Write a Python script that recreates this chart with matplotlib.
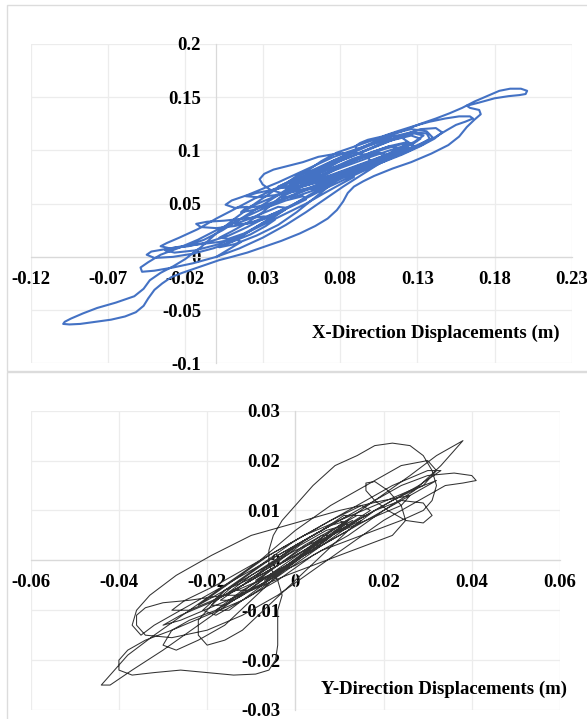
import numpy as np
import matplotlib.pyplot as plt
from matplotlib.patches import Rectangle

plt.rcParams["font.family"] = ["Liberation Serif", "DejaVu Serif"]
plt.rcParams["font.weight"] = "bold"

# X-direction displacement trajectory (m)
x_dir_path = [
    (0.000, 0.000), (0.008, 0.007), (0.016, 0.014), (0.012, 0.017), (0.002, 0.014),
    (-0.010, 0.012), (-0.022, 0.010), (-0.034, 0.007), (-0.042, 0.005), (-0.045, 0.002),
    (-0.040, -0.001), (-0.028, 0.000), (-0.015, 0.003), (-0.002, 0.008), (0.010, 0.014),
    (0.022, 0.021), (0.032, 0.029), (0.038, 0.035), (0.031, 0.038), (0.018, 0.036),
    (0.005, 0.034), (-0.006, 0.033), (-0.013, 0.031), (-0.010, 0.028), (0.000, 0.027),
    (0.012, 0.029), (0.024, 0.033), (0.036, 0.040), (0.048, 0.047), (0.058, 0.054),
    (0.056, 0.057), (0.045, 0.053), (0.030, 0.045), (0.015, 0.035), (0.000, 0.025),
    (-0.012, 0.016), (-0.025, 0.008), (-0.036, 0.002), (-0.044, -0.005), (-0.049, -0.010),
    (-0.048, -0.014), (-0.040, -0.013), (-0.028, -0.010), (-0.015, -0.006), (0.000, 0.000),
    (0.015, 0.008), (0.030, 0.018), (0.045, 0.030), (0.058, 0.042), (0.070, 0.054),
    (0.082, 0.066), (0.095, 0.078), (0.108, 0.090), (0.118, 0.100), (0.124, 0.108),
    (0.120, 0.112), (0.110, 0.110), (0.098, 0.104), (0.085, 0.096), (0.072, 0.088),
    (0.060, 0.080), (0.050, 0.073), (0.038, 0.064), (0.025, 0.055), (0.012, 0.045),
    (0.000, 0.036), (-0.012, 0.026), (-0.024, 0.018), (-0.032, 0.013), (-0.036, 0.010),
    (-0.030, 0.008), (-0.018, 0.010), (-0.005, 0.014), (0.008, 0.020), (0.020, 0.028),
    (0.032, 0.037), (0.045, 0.046), (0.058, 0.055), (0.070, 0.064), (0.082, 0.072),
    (0.094, 0.080), (0.106, 0.088), (0.118, 0.096), (0.130, 0.104), (0.138, 0.111),
    (0.136, 0.116), (0.126, 0.117), (0.114, 0.113), (0.100, 0.106), (0.088, 0.100),
    (0.076, 0.094), (0.064, 0.086), (0.052, 0.078), (0.040, 0.070), (0.030, 0.064),
    (0.020, 0.058), (0.010, 0.053), (0.006, 0.049), (0.012, 0.046), (0.020, 0.047),
    (0.016, 0.042), (0.024, 0.044), (0.036, 0.050), (0.050, 0.058), (0.064, 0.066),
    (0.078, 0.074), (0.090, 0.082), (0.100, 0.090), (0.096, 0.096), (0.088, 0.098),
    (0.078, 0.097), (0.066, 0.094), (0.056, 0.089), (0.045, 0.085), (0.037, 0.082),
    (0.031, 0.078), (0.028, 0.073), (0.030, 0.068), (0.035, 0.063), (0.042, 0.060),
    (0.050, 0.061), (0.060, 0.065), (0.070, 0.070), (0.082, 0.077), (0.094, 0.084),
    (0.106, 0.091), (0.118, 0.098), (0.130, 0.105), (0.141, 0.112), (0.149, 0.119),
    (0.155, 0.124), (0.161, 0.127), (0.166, 0.130), (0.164, 0.132), (0.157, 0.132),
    (0.148, 0.130), (0.138, 0.127), (0.128, 0.123), (0.117, 0.118), (0.107, 0.113),
    (0.098, 0.110), (0.093, 0.107), (0.090, 0.104), (0.091, 0.101), (0.087, 0.097),
    (0.079, 0.092), (0.070, 0.085), (0.061, 0.078), (0.052, 0.072), (0.045, 0.068),
    (0.038, 0.063), (0.025, 0.050), (0.012, 0.036), (0.000, 0.022), (-0.010, 0.009),
    (-0.020, -0.002), (-0.028, -0.009), (-0.036, -0.015), (-0.043, -0.022), (-0.047, -0.030),
    (-0.053, -0.037), (-0.065, -0.043), (-0.077, -0.048), (-0.086, -0.053), (-0.094, -0.058),
    (-0.098, -0.061), (-0.099, -0.063), (-0.095, -0.0635), (-0.088, -0.063), (-0.078, -0.061),
    (-0.068, -0.059), (-0.059, -0.056), (-0.052, -0.052), (-0.047, -0.046), (-0.044, -0.039),
    (-0.040, -0.031), (-0.035, -0.025), (-0.029, -0.019), (-0.022, -0.015), (-0.014, -0.011),
    (-0.006, -0.007), (0.002, -0.003), (0.010, 0.000), (0.020, 0.004), (0.030, 0.009),
    (0.042, 0.015), (0.054, 0.022), (0.064, 0.029), (0.072, 0.036), (0.078, 0.044),
    (0.082, 0.052), (0.085, 0.060), (0.089, 0.066), (0.095, 0.071), (0.102, 0.076),
    (0.114, 0.083), (0.126, 0.089), (0.139, 0.097), (0.150, 0.105), (0.157, 0.113),
    (0.162, 0.122), (0.167, 0.129), (0.171, 0.134), (0.170, 0.138), (0.164, 0.140),
    (0.162, 0.142), (0.170, 0.145), (0.180, 0.149), (0.189, 0.151), (0.196, 0.152),
    (0.200, 0.153), (0.201, 0.156), (0.197, 0.158), (0.190, 0.158), (0.183, 0.156),
    (0.175, 0.151), (0.167, 0.146), (0.159, 0.140), (0.151, 0.135), (0.142, 0.130),
    (0.132, 0.125), (0.120, 0.118), (0.105, 0.110), (0.090, 0.100), (0.075, 0.090),
    (0.062, 0.080), (0.052, 0.071), (0.046, 0.065), (0.050, 0.062), (0.062, 0.064),
    (0.078, 0.072), (0.092, 0.080), (0.106, 0.088), (0.120, 0.096), (0.132, 0.104),
    (0.141, 0.111), (0.146, 0.117), (0.142, 0.121), (0.132, 0.120), (0.120, 0.114),
    (0.106, 0.106), (0.092, 0.097), (0.078, 0.089), (0.066, 0.081), (0.056, 0.075),
    (0.050, 0.072), (0.058, 0.071), (0.070, 0.074), (0.085, 0.082), (0.100, 0.090),
    (0.115, 0.099), (0.127, 0.106), (0.132, 0.111), (0.126, 0.114), (0.112, 0.109),
    (0.098, 0.101), (0.084, 0.093), (0.070, 0.084), (0.058, 0.075), (0.048, 0.066),
    (0.040, 0.058), (0.028, 0.047), (0.016, 0.036), (0.004, 0.025), (-0.008, 0.016),
    (-0.020, 0.010), (-0.028, 0.008), (-0.033, 0.006), (-0.027, 0.004), (-0.014, 0.006),
    (0.002, 0.012), (0.016, 0.020), (0.030, 0.030), (0.044, 0.040), (0.058, 0.050),
    (0.070, 0.060), (0.080, 0.068), (0.089, 0.075), (0.086, 0.079), (0.074, 0.075),
    (0.062, 0.069), (0.050, 0.063), (0.038, 0.058), (0.027, 0.056), (0.019, 0.057),
    (0.026, 0.060), (0.040, 0.064), (0.055, 0.070), (0.070, 0.078), (0.085, 0.086),
    (0.100, 0.094), (0.112, 0.100), (0.121, 0.104), (0.116, 0.098), (0.104, 0.090),
    (0.090, 0.082), (0.076, 0.070), (0.064, 0.056), (0.052, 0.042), (0.040, 0.030),
    (0.026, 0.020), (0.012, 0.012), (0.002, 0.009), (0.015, 0.018), (0.030, 0.032),
    (0.045, 0.045), (0.060, 0.058), (0.075, 0.070), (0.090, 0.082), (0.105, 0.092),
    (0.118, 0.101), (0.128, 0.108), (0.134, 0.114), (0.128, 0.116), (0.116, 0.111),
    (0.104, 0.104), (0.092, 0.097), (0.080, 0.090), (0.068, 0.080), (0.058, 0.072),
    (0.065, 0.072), (0.080, 0.080), (0.095, 0.088), (0.110, 0.096), (0.124, 0.103),
    (0.120, 0.106), (0.108, 0.101), (0.095, 0.094), (0.082, 0.086), (0.072, 0.078),
    (0.060, 0.070), (0.050, 0.062), (0.042, 0.056), (0.050, 0.056), (0.062, 0.062),
    (0.074, 0.070), (0.086, 0.078), (0.098, 0.086), (0.110, 0.092), (0.120, 0.098),
    (0.128, 0.104), (0.124, 0.108), (0.112, 0.104), (0.100, 0.098), (0.088, 0.092),
    (0.076, 0.084), (0.066, 0.078), (0.056, 0.072), (0.048, 0.068), (0.054, 0.066),
    (0.066, 0.070), (0.080, 0.076), (0.094, 0.083), (0.108, 0.090), (0.122, 0.098),
    (0.134, 0.106), (0.140, 0.112), (0.136, 0.118), (0.126, 0.120), (0.114, 0.116),
    (0.102, 0.110), (0.090, 0.104), (0.078, 0.098), (0.068, 0.090), (0.060, 0.082),
    (0.052, 0.076), (0.046, 0.070), (0.040, 0.066), (0.048, 0.064), (0.060, 0.068),
    (0.072, 0.074), (0.084, 0.080), (0.096, 0.086), (0.108, 0.094), (0.118, 0.102),
    (0.112, 0.104), (0.100, 0.098), (0.088, 0.090), (0.076, 0.082), (0.064, 0.074),
    (0.052, 0.066), (0.040, 0.058), (0.030, 0.052), (0.020, 0.046), (0.030, 0.048),
    (0.042, 0.054), (0.056, 0.062), (0.070, 0.070), (0.084, 0.078), (0.098, 0.088),
    (0.110, 0.096), (0.104, 0.098), (0.092, 0.092), (0.080, 0.086), (0.068, 0.080),
    (0.056, 0.072), (0.046, 0.062), (0.038, 0.052), (0.030, 0.042), (0.020, 0.032),
    (0.010, 0.024), (0.002, 0.018), (0.008, 0.017), (0.018, 0.022), (0.028, 0.030),
    (0.038, 0.038), (0.046, 0.046), (0.040, 0.047), (0.030, 0.041), (0.020, 0.035),
    (0.012, 0.031), (0.020, 0.031), (0.032, 0.036), (0.044, 0.044),
]

# Y-direction displacement trajectory (m)
y_dir_path = [
    (0.000, 0.000), (0.004, 0.002), (0.008, 0.005), (0.006, 0.005), (0.001, 0.002),
    (-0.004, -0.001), (-0.009, -0.004), (-0.006, -0.003), (0.000, 0.000), (0.006, 0.004),
    (0.012, 0.007), (0.010, 0.008), (0.004, 0.005), (-0.003, 0.001), (-0.010, -0.003),
    (-0.016, -0.007), (-0.013, -0.007), (-0.006, -0.004), (0.002, 0.001), (0.010, 0.006),
    (0.017, 0.010), (0.015, 0.011), (0.008, 0.008), (0.000, 0.004), (-0.008, -0.001),
    (-0.016, -0.006), (-0.021, -0.010), (-0.018, -0.011), (-0.010, -0.007), (-0.002, -0.002),
    (0.006, 0.003), (0.014, 0.008), (0.022, 0.012), (0.029, 0.015), (0.032, 0.018),
    (0.030, 0.020), (0.024, 0.019), (0.016, 0.015), (0.008, 0.011), (0.000, 0.006),
    (-0.008, 0.000), (-0.016, -0.005), (-0.024, -0.010), (-0.032, -0.015), (-0.038, -0.019),
    (-0.042, -0.023), (-0.044, -0.025), (-0.042, -0.025), (-0.037, -0.022), (-0.030, -0.018),
    (-0.022, -0.013), (-0.014, -0.008), (-0.006, -0.003), (0.002, 0.002), (0.010, 0.007),
    (0.018, 0.012), (0.026, 0.017), (0.032, 0.021), (0.036, 0.023), (0.038, 0.024),
    (0.037, 0.023), (0.033, 0.019), (0.027, 0.014), (0.020, 0.010), (0.012, 0.005),
    (0.004, 0.001), (-0.004, -0.004), (-0.012, -0.008), (-0.020, -0.011), (-0.028, -0.014),
    (-0.034, -0.016), (-0.038, -0.018), (-0.040, -0.020), (-0.040, -0.022), (-0.037, -0.023),
    (-0.032, -0.0225), (-0.026, -0.022), (-0.020, -0.0225), (-0.014, -0.023), (-0.009, -0.0228),
    (-0.006, -0.022), (-0.0045, -0.020), (-0.004, -0.017), (-0.004, -0.013), (-0.004, -0.010),
    (-0.003, -0.007), (-0.004, -0.004), (-0.006, -0.001), (-0.006, 0.002), (-0.005, 0.005),
    (-0.003, 0.008), (0.000, 0.011), (0.004, 0.015), (0.009, 0.019), (0.014, 0.021),
    (0.018, 0.023), (0.022, 0.0235), (0.026, 0.023), (0.029, 0.021), (0.031, 0.018),
    (0.032, 0.015), (0.031, 0.012), (0.029, 0.010), (0.024, 0.008), (0.018, 0.006),
    (0.012, 0.004), (0.006, 0.002), (0.000, -0.001), (-0.008, -0.004), (-0.016, -0.007),
    (-0.024, -0.008), (-0.030, -0.0085), (-0.034, -0.0095), (-0.036, -0.011), (-0.036, -0.013),
    (-0.034, -0.015), (-0.028, -0.0155), (-0.020, -0.014), (-0.012, -0.011), (-0.004, -0.007),
    (0.004, -0.002), (0.012, 0.003), (0.020, 0.008), (0.028, 0.012), (0.034, 0.015),
    (0.038, 0.0155), (0.041, 0.016), (0.040, 0.017), (0.036, 0.0175), (0.030, 0.017),
    (0.024, 0.015), (0.018, 0.012), (0.010, 0.008), (0.002, 0.004), (-0.006, 0.000),
    (-0.014, -0.005), (-0.019, -0.009), (-0.022, -0.012), (-0.022, -0.015), (-0.020, -0.017),
    (-0.016, -0.016), (-0.012, -0.014), (-0.006, -0.009), (0.000, -0.004), (0.006, 0.001),
    (0.012, 0.006), (0.018, 0.010), (0.024, 0.012), (0.029, 0.0115), (0.031, 0.009),
    (0.029, 0.0075), (0.025, 0.008), (0.021, 0.010), (0.018, 0.012), (0.016, 0.014),
    (0.016, 0.0155), (0.018, 0.0158), (0.021, 0.014), (0.024, 0.011), (0.025, 0.008),
    (0.022, 0.005), (0.016, 0.003), (0.010, 0.001), (0.004, -0.001), (-0.002, -0.003),
    (-0.010, -0.006), (-0.018, -0.009), (-0.026, -0.012), (-0.030, -0.013), (-0.026, -0.011),
    (-0.018, -0.008), (-0.010, -0.004), (-0.002, 0.000), (0.006, 0.004), (0.014, 0.008),
    (0.022, 0.012), (0.028, 0.015), (0.033, 0.018), (0.030, 0.018), (0.022, 0.015),
    (0.014, 0.011), (0.006, 0.007), (-0.002, 0.003), (-0.010, -0.001), (-0.018, -0.005),
    (-0.025, -0.008), (-0.028, -0.010), (-0.024, -0.010), (-0.016, -0.007), (-0.008, -0.003),
    (0.000, 0.001), (0.008, 0.005), (0.016, 0.009), (0.012, 0.009), (0.004, 0.005),
    (-0.004, 0.001), (-0.012, -0.003), (-0.020, -0.007), (-0.026, -0.010), (-0.032, -0.013),
    (-0.035, -0.015), (-0.037, -0.013), (-0.036, -0.010), (-0.033, -0.007), (-0.027, -0.003),
    (-0.019, 0.001), (-0.010, 0.005), (0.000, 0.0075), (0.010, 0.010), (0.020, 0.012),
    (0.026, 0.013), (0.024, 0.011), (0.016, 0.008), (0.008, 0.005), (0.000, 0.002),
    (-0.008, -0.002), (-0.016, -0.006), (-0.022, -0.009), (-0.014, -0.004), (-0.006, 0.001),
    (0.002, 0.005), (0.010, 0.008), (0.018, 0.011), (0.026, 0.014), (0.032, 0.016),
    (0.026, 0.013), (0.018, 0.009), (0.010, 0.005), (0.002, 0.001), (-0.006, -0.003),
    (-0.012, -0.006), (-0.018, -0.010), (-0.024, -0.012), (-0.028, -0.014), (-0.030, -0.017),
    (-0.027, -0.018), (-0.022, -0.016), (-0.016, -0.013), (-0.010, -0.008), (-0.004, -0.003),
    (0.000, 0.000), (0.005, 0.004), (0.010, 0.007), (0.014, 0.009), (0.011, 0.009),
    (0.006, 0.006), (0.000, 0.003), (-0.006, -0.001), (-0.012, -0.005), (-0.017, -0.008),
    (-0.014, -0.008), (-0.008, -0.005), (-0.002, -0.001), (0.004, 0.003), (0.010, 0.006),
    (0.015, 0.008), (0.012, 0.006), (0.006, 0.003), (0.000, 0.000), (-0.006, -0.003),
    (-0.012, -0.007), (-0.018, -0.010), (-0.015, -0.010), (-0.009, -0.006), (-0.003, -0.002),
    (0.003, 0.002), (0.008, 0.005), (0.012, 0.008), (0.008, 0.007), (0.002, 0.004),
    (-0.004, 0.000), (-0.010, -0.004), (-0.014, -0.006), (-0.010, -0.006), (-0.004, -0.003),
    (0.002, 0.001), (0.007, 0.004), (0.011, 0.007), (0.007, 0.006), (0.001, 0.003),
    (-0.005, -0.001), (-0.011, -0.004), (-0.016, -0.006), (-0.019, -0.009), (-0.016, -0.009),
    (-0.010, -0.005), (-0.004, -0.001), (0.002, 0.003), (0.008, 0.006), (0.013, 0.008),
    (0.009, 0.006), (0.003, 0.002), (-0.002, -0.001), (-0.007, -0.004), (-0.003, -0.002),
    (0.000, 0.000),
]

x_ticks_top = [-0.12, -0.07, -0.02, 0.03, 0.08, 0.13, 0.18, 0.23]
y_ticks_top = [-0.1, -0.05, 0, 0.05, 0.1, 0.15, 0.2]
x_labels_top = ["-0.12", "-0.07", "-0.02", "0.03", "0.08", "0.13", "0.18", "0.23"]
y_labels_top = ["-0.1", "-0.05", "0", "0.05", "0.1", "0.15", "0.2"]

x_ticks_bot = [-0.06, -0.04, -0.02, 0, 0.02, 0.04, 0.06]
y_ticks_bot = [-0.03, -0.02, -0.01, 0, 0.01, 0.02, 0.03]
x_labels_bot = ["-0.06", "-0.04", "-0.02", "0", "0.02", "0.04", "0.06"]
y_labels_bot = ["-0.03", "-0.02", "-0.01", "0", "0.01", "0.02", "0.03"]

W, H = 587, 719

fig = plt.figure(figsize=(W / 100, H / 100), dpi=100)

# chart frames (two stacked Excel-style charts)
fig.add_artist(Rectangle((7 / W, 1 - 371 / H), 600 / W, 366 / H, transform=fig.transFigure,
                         fill=False, edgecolor="#dcdcdc", lw=1))
fig.add_artist(Rectangle((7 / W, 1 - 730 / H), 600 / W, 358 / H, transform=fig.transFigure,
                         fill=False, edgecolor="#dcdcdc", lw=1))

ax1 = fig.add_axes([30.7 / W, 1 - 363.3 / H, (572 - 30.7) / W, (363.3 - 44) / H])
ax2 = fig.add_axes([30.7 / W, 1 - 710 / H, (560 - 30.7) / W, (710 - 410.7) / H])


def style(ax, xticks, yticks, xlabels, ylabels):
    # move spines first: set_position resets the tick objects
    for s in ["top", "right"]:
        ax.spines[s].set_visible(False)
    ax.spines["left"].set_position(("data", 0))
    ax.spines["bottom"].set_position(("data", 0))
    for s in ["left", "bottom"]:
        ax.spines[s].set_color("#d9d9d9")
        ax.spines[s].set_linewidth(0.9)
        ax.spines[s].set_zorder(1)
    ax.set_xlim(xticks[0], xticks[-1])
    ax.set_ylim(yticks[0], yticks[-1])
    ax.set_xticks(xticks)
    ax.set_yticks(yticks)
    ax.set_xticklabels(xlabels, fontweight="bold", fontsize=13.5)
    ax.set_yticklabels(ylabels, fontweight="bold", fontsize=13.5)
    ax.tick_params(axis="x", length=0, pad=10, colors="#000000")
    ax.tick_params(axis="y", length=0, pad=11, colors="#000000")
    ax.grid(True, color="#ececec", lw=0.9)
    ax.set_axisbelow(True)
    ax.patch.set_alpha(0)


pts = np.array(x_dir_path)
ax1.plot(pts[:, 0], pts[:, 1], color="#4472C4", lw=1.5, solid_joinstyle="round", zorder=3)
style(ax1, x_ticks_top, y_ticks_top, x_labels_top, y_labels_top)
ax1.text(0.749, 0.094, "X-Direction Displacements (m)", transform=ax1.transAxes,
         ha="center", va="center", fontweight="bold", fontsize=13.5)

pts = np.array(y_dir_path)
ax2.plot(pts[:, 0], pts[:, 1], color="#333333", lw=0.75, solid_joinstyle="round", zorder=3)
style(ax2, x_ticks_bot, y_ticks_bot, x_labels_bot, y_labels_bot)
ax2.text(0.781, 0.07, "Y-Direction Displacements (m)", transform=ax2.transAxes,
         ha="center", va="center", fontweight="bold", fontsize=13.5)

fig.savefig("out.png", dpi=100)
